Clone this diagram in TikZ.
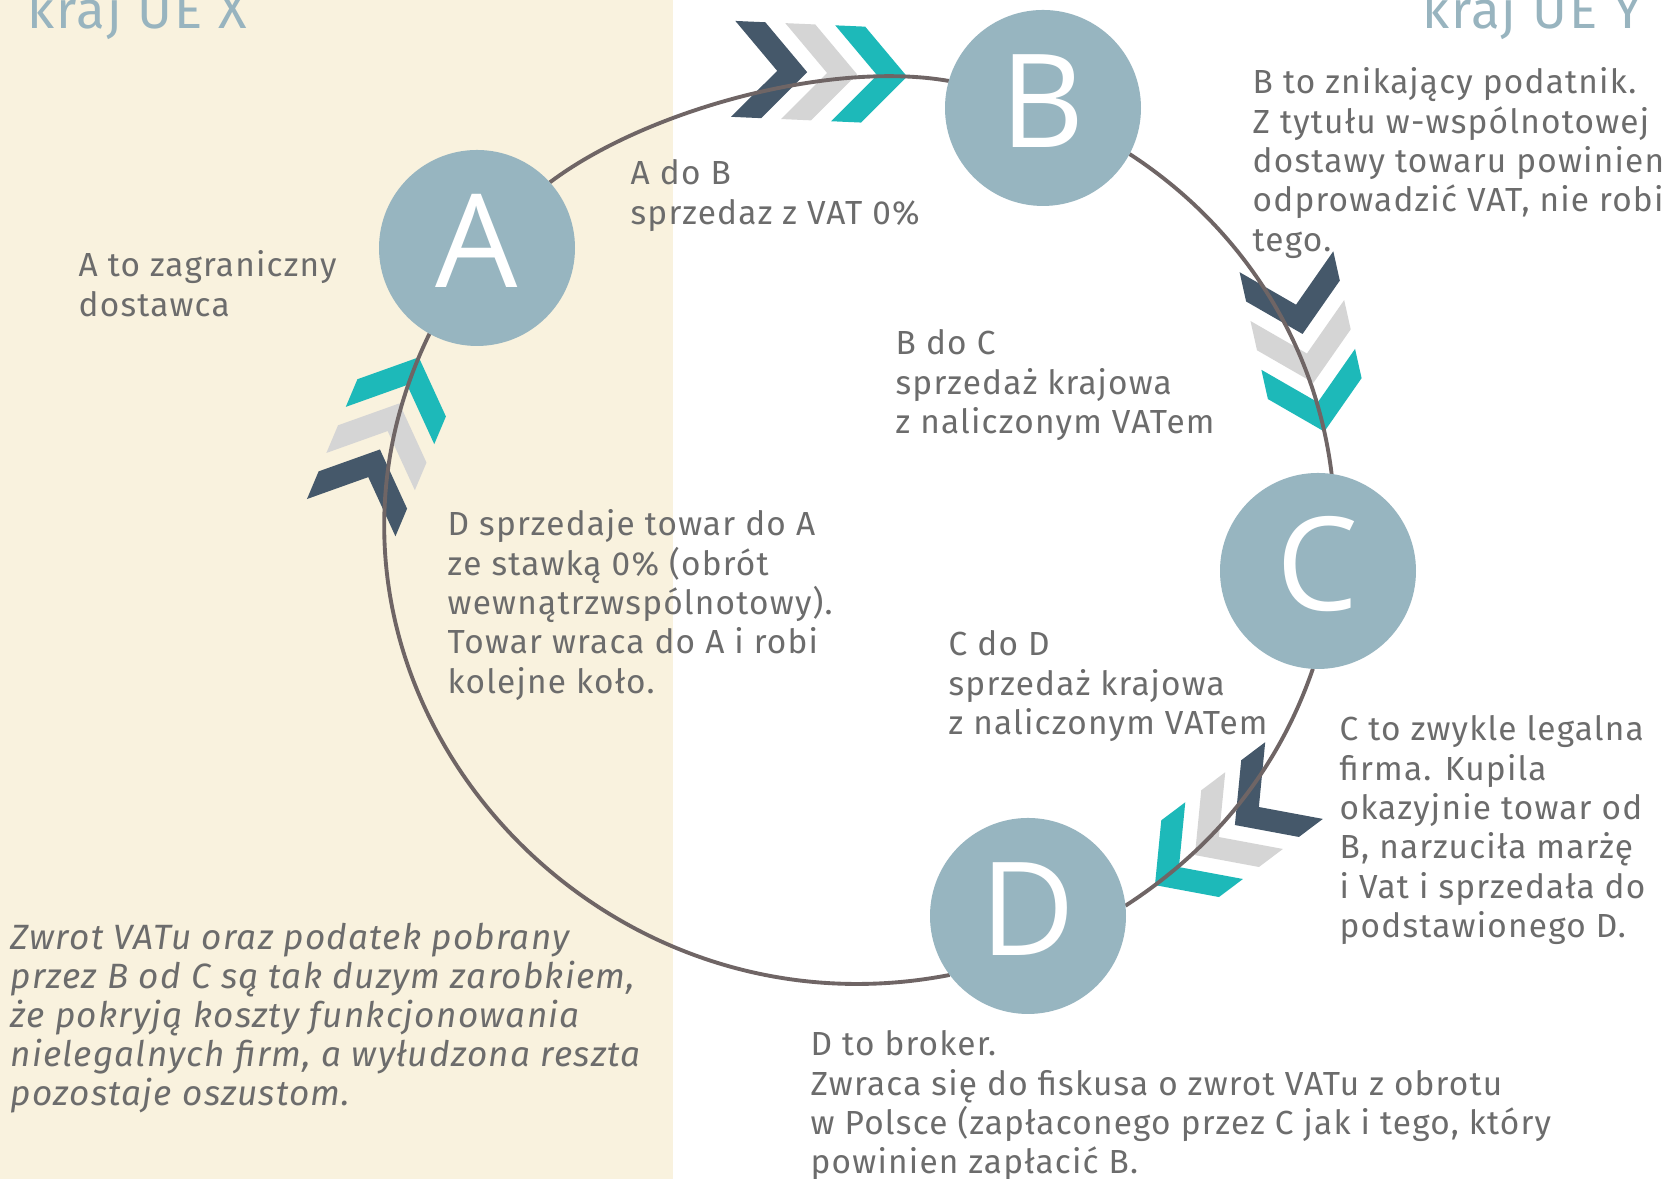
\documentclass[tikz,border=0pt]{standalone}
\usepackage{fontspec}
\setmainfont{Fira Sans}[LetterSpace=3.6]
\newfontfamily\letterfont{Open Sans}
\newfontfamily\notefont{Fira Sans}[LetterSpace=3.5]
\usepackage{tikz}
\usetikzlibrary{positioning,backgrounds,decorations.markings}
\definecolor{cream}{HTML}{F9F2DE}
\definecolor{firmfill}{HTML}{97B5C0}
\definecolor{hdrblue}{HTML}{98B4BF}
\definecolor{txtgray}{HTML}{6C6C6C}
\definecolor{ringline}{HTML}{6F6565}
\definecolor{chevdark}{HTML}{45586A}
\definecolor{chevgray}{HTML}{D5D5D5}
\definecolor{chevteal}{HTML}{1DB9B9}
\tikzset{
  % Traders on the carousel
  firm/.style={circle,fill=firmfill,minimum size=1.96cm,inner sep=0pt,outer sep=0pt,
               text=white,font=\letterfont\fontsize{37}{37}\selectfont,
               text height=0.93cm,text depth=0.14cm},
  % Country headers
  hdr/.style={text=hdrblue,font=\fontsize{15}{15}\selectfont,inner sep=0pt},
  % Explanations
  txt/.style={text=txtgray,font=\fontsize{9.5}{11.2}\selectfont,align=left,
              anchor=north west,inner sep=0pt,execute at begin node=\strut},
  note/.style={txt,font=\notefont\itshape\fontsize{10}{11.1}\selectfont},
  % Ring connector with chevron tips
  ring/.style={draw=ringline,line width=1.1pt},
  chevron/.pic={\fill[#1] (-0.74,0.48) -- (-0.44,0.48) -- (0,0) -- (-0.44,-0.48)
                -- (-0.74,-0.48) -- (-0.30,0) -- cycle;},
  chevs/.style={preaction={decorate,decoration={markings,
      mark=at position -#1 with {
        \pic[transform shape] at (-1.0,0) {chevron=chevdark};
        \pic[transform shape] at (-0.5,0) {chevron=chevgray};
        \pic[transform shape] at (0,0) {chevron=chevteal};}}}}
}
\begin{document}
\begin{tikzpicture}
  \useasboundingbox (0,0) rectangle (16.67,11.79);
  \begin{scope}[on background layer]
    \fill[white] (0,0) rectangle (16.67,11.79);
    \fill[cream] (0,0) rectangle (6.73,11.79);
  \end{scope}

  % --- Headers ---
  \node[hdr,anchor=base west] (hx) at (0.27,11.50) {kraj UE X};
  \node[hdr,anchor=base east] (hy) at (16.43,11.50) {kraj UE Y};

  % --- Nodes ---
  \node[firm] (A) at (4.77,9.31)  {A};
  \node[firm] (B) at (10.43,10.71) {B};
  \node[firm] (C) at (13.18,6.08) {C};
  \node[firm] (D) at (10.28,2.63) {D};

  % --- Texts ---
  \node[txt] (ta)  at (0.78,9.29)  {A to zagraniczny\\dostawca};
  \node[txt] (tab) at (6.30,10.20) {A do B\\sprzedaz z VAT 0\%};
  \node[txt] (tb)  at (12.52,11.12) {B to znikający podatnik.\\Z tytułu w-wspólnotowej\\dostawy towaru powinien\\odprowadzić VAT, nie robi\\tego.};
  \node[txt] (tbc) at (8.95,8.50) {B do C\\sprzedaż krajowa\\z naliczonym VATem};
  \node[txt] (tda) at (4.47,6.70) {D sprzedaje towar do A\\ze stawką 0\% (obrót\\wewnątrzwspólnotowy).\\Towar wraca do A i robi\\kolejne koło.};
  \node[txt] (tcd) at (9.48,5.49) {C do D\\sprzedaż krajowa\\z naliczonym VATem};
  \node[txt] (tc)  at (13.39,4.64) {C to zwykle legalna\\firma. Kupila\\okazyjnie towar od\\B, narzuciła marżę\\i Vat i sprzedała do\\podstawionego D.};
  \node[note] (tn) at (0.10,2.57) {Zwrot VATu oraz podatek pobrany\\przez B od C są tak duzym zarobkiem,\\że pokryją koszty funkcjonowania\\nielegalnych firm, a wyłudzona reszta\\pozostaje oszustom.};
  \node[txt] (td) at (8.10,1.49) {D to broker.\\Zwraca się do fiskusa o zwrot VATu z obrotu\\w Polsce (zapłaconego przez C jak i tego, który\\powinien zapłacić B.};

  % --- Carousel ---
  \begin{scope}[on background layer]
    \draw[ring,chevs=0.42cm] (A.42)  to[out=37,in=170,looseness=0.75] (B.164);
    \draw[ring,chevs=0.43cm] (B.-28) to[out=-33,in=97,looseness=0.9] (C.82);
    \draw[ring,chevs=0.36cm] (C.-93) to[out=-109,in=33,looseness=0.9] (D.6);
    \draw[ring,chevs=0.26cm] (D.217) to[out=191,in=244,looseness=1.17] (A.241);
  \end{scope}
\end{tikzpicture}
\end{document}
